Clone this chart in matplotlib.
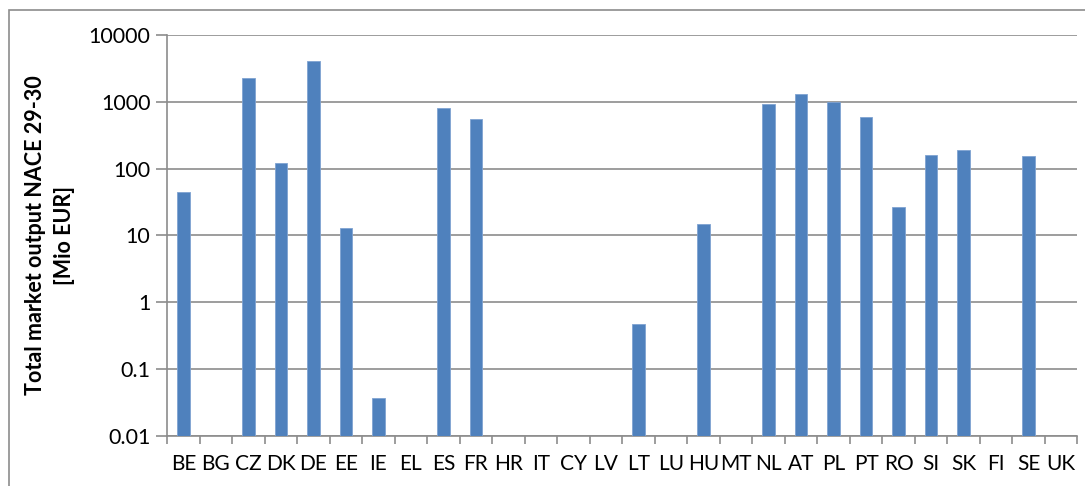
import matplotlib.pyplot as plt
import numpy as np
from matplotlib.patches import Rectangle

# Countries and total market output (Mio EUR); None = no bar
countries = ["BE", "BG", "CZ", "DK", "DE", "EE", "IE", "EL", "ES", "FR", "HR", "IT",
             "CY", "LV", "LT", "LU", "HU", "MT", "NL", "AT", "PL", "PT", "RO", "SI",
             "SK", "FI", "SE", "UK"]
output = [45, None, 2300, 120, 4100, 13, 0.037, None, 810, 550, None, None,
          None, None, 0.47, None, 14.6, None, 930, 1290, 990, 600, 27, 160,
          187, None, 152, None]
y_ticks = [0.01, 0.1, 1, 10, 100, 1000, 10000]
y_tick_labels = ["0.01", "0.1", "1", "10", "100", "1000", "10000"]

plt.rcParams["font.family"] = ["Lato", "DejaVu Sans"]

fig = plt.figure(figsize=(10.85, 4.86), dpi=100)
ax = fig.add_axes([0.154, 0.103, 0.839, 0.825])

# Outer chart border
fig.patches.append(Rectangle((0.008, -0.05), 1.2, 1.03, transform=fig.transFigure,
                             fill=False, edgecolor="#8c8c8c", linewidth=1.2))

x = np.arange(len(countries))
heights = [v if v is not None else np.nan for v in output]
ax.bar(x, heights, width=0.39, color="#4f81bd", edgecolor="#7fa3d2",
       linewidth=0.6, bottom=0, zorder=3)

ax.set_yscale("log")
ax.set_ylim(0.01, 10000)
ax.set_xlim(-0.5, len(countries) - 0.5)
ax.set_yticks(y_ticks)
ax.set_yticklabels(y_tick_labels)
ax.minorticks_off()
ax.yaxis.grid(True, color="#8c8c8c", linewidth=1.2, zorder=0)

ax.set_xticks(x)
ax.set_xticklabels(countries)
ax.set_xticks(np.arange(len(countries) + 1) - 0.5, minor=True)
ax.tick_params(axis="x", which="major", length=0, pad=13, labelsize=15)
ax.tick_params(axis="x", which="minor", length=6, color="#8c8c8c", width=1.2)
ax.tick_params(axis="y", which="major", length=8, color="#8c8c8c", width=1.2,
               labelsize=15.5, pad=4)

for side in ["top", "right"]:
    ax.spines[side].set_visible(False)
for side in ["left", "bottom"]:
    ax.spines[side].set_color("#8c8c8c")
    ax.spines[side].set_linewidth(1.2)

ax.set_ylabel("Total market output NACE 29-30\n[Mio EUR]", fontsize=15.5,
              fontweight="bold", labelpad=10, linespacing=1.45)

plt.savefig("out.png")
